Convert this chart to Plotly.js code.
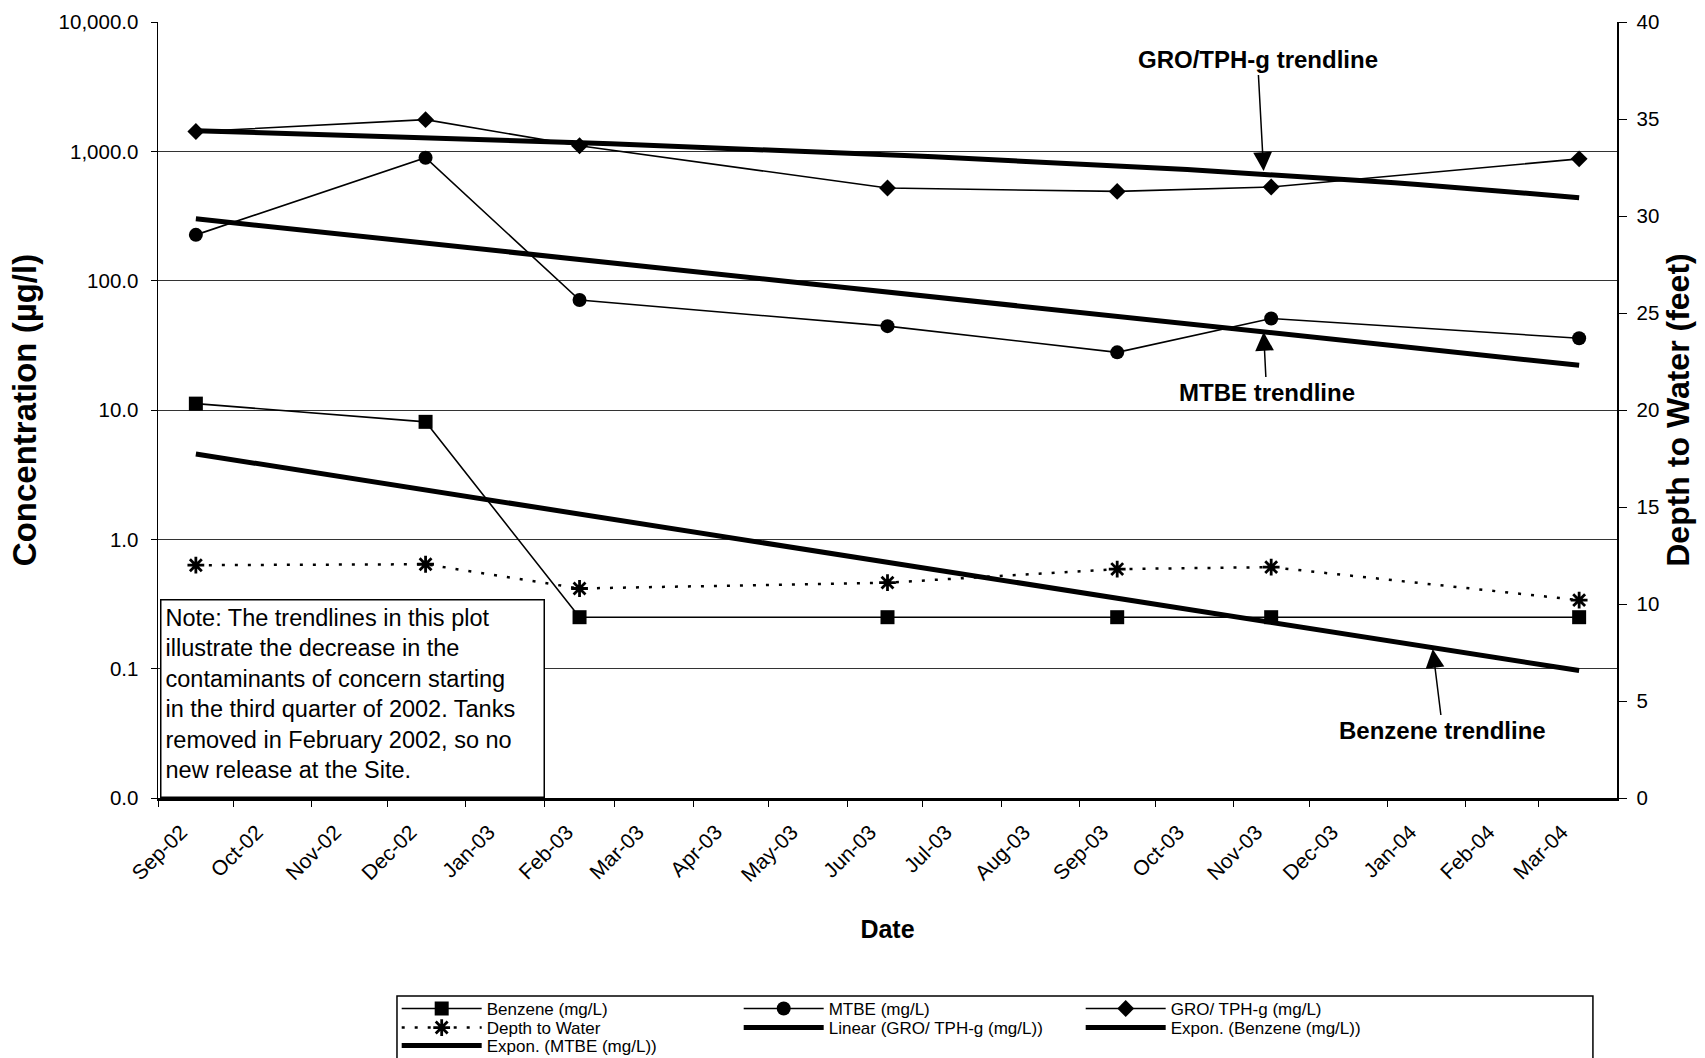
<!DOCTYPE html>
<html>
<head>
<meta charset="utf-8">
<script src="https://cdn.plot.ly/plotly-3.0.1.min.js"></script>
<style>html,body{margin:0;padding:0;background:#fff;}#chart{width:1705px;height:1058px;}</style>
</head>
<body>
<div id="chart"></div>
<script>
// ---- data ----
const sampleDates = ['2002-09-16','2002-12-16','2003-02-15','2003-06-17','2003-09-16','2003-11-16','2004-03-17'];
const benzene = [11.2, 8.1, 0.25, 0.25, 0.25, 0.25, 0.25];
const mtbe = [226, 893, 70.8, 44.5, 27.9, 51, 35.9];
const gro = [1422, 1758, 1105, 520, 490, 530, 875];
const depthToWater = [12.0, 12.05, 10.8, 11.1, 11.8, 11.9, 10.2];

const monthTickDates = ['2002-09-01','2002-10-01','2002-11-01','2002-12-01','2003-01-01','2003-02-01','2003-03-01','2003-04-01','2003-05-01','2003-06-01','2003-07-01','2003-08-01','2003-09-01','2003-10-01','2003-11-01','2003-12-01','2004-01-01','2004-02-01','2004-03-01'];
const monthTickLabels = ['Sep-02','Oct-02','Nov-02','Dec-02','Jan-03','Feb-03','Mar-03','Apr-03','May-03','Jun-03','Jul-03','Aug-03','Sep-03','Oct-03','Nov-03','Dec-03','Jan-04','Feb-04','Mar-04'];
const concTickVals = [0.01, 0.1, 1, 10, 100, 1000, 10000];
const concTickText = ['0.0','0.1','1.0','10.0','100.0','1,000.0','10,000.0'];

const noteLines = [
  'Note: The trendlines in this plot',
  'illustrate the decrease in the',
  'contaminants of concern starting',
  'in the third quarter of 2002. Tanks',
  'removed in February 2002, so no',
  'new release at the Site.'
];

// ---- trendlines (least squares, as Excel does) ----
const DAY = 864e5;
const tDays = sampleDates.map(d => Date.parse(d) / DAY);
function lsq(xs, ys) {
  const n = xs.length;
  const mx = xs.reduce((a,b)=>a+b,0)/n, my = ys.reduce((a,b)=>a+b,0)/n;
  let sxy = 0, sxx = 0;
  for (let i = 0; i < n; i++) { sxy += (xs[i]-mx)*(ys[i]-my); sxx += (xs[i]-mx)*(xs[i]-mx); }
  const b = sxy/sxx; return {a: my - b*mx, b: b};
}
const N = 60;
const tTrend = [];
for (let i = 0; i <= N; i++) tTrend.push(tDays[0] + (tDays[tDays.length-1]-tDays[0])*i/N);
const xTrend = tTrend.map(t => new Date(t*DAY).toISOString().slice(0,19));
const linGro = lsq(tDays, gro);
const expBen = lsq(tDays, benzene.map(Math.log));
const expMtbe = lsq(tDays, mtbe.map(Math.log));
const groTrend = tTrend.map(t => linGro.a + linGro.b*t);
const benTrend = tTrend.map(t => Math.exp(expBen.a + expBen.b*t));
const mtbeTrend = tTrend.map(t => Math.exp(expMtbe.a + expMtbe.b*t));

const FONT = 'Arial, "Liberation Sans", sans-serif';
const thin = {color:'#000', width:1.6};

const traces = [
  {x: sampleDates, y: benzene, name:'Benzene (mg/L)', legend:'legend', mode:'lines+markers', line: thin,
   marker:{symbol:'square', size:14, color:'#000'}},
  {x: sampleDates, y: mtbe, name:'MTBE (mg/L)', legend:'legend', mode:'lines+markers', line: thin,
   marker:{symbol:'circle', size:14, color:'#000'}},
  {x: sampleDates, y: gro, name:'GRO/ TPH-g (mg/L)', legend:'legend', mode:'lines+markers', line: thin,
   marker:{symbol:'diamond', size:13, color:'#000'}},
  {x: sampleDates, y: depthToWater, name:'Depth to Water', legend:'legend2', mode:'lines+markers', yaxis:'y2',
   line:{color:'#000', width:2.5, dash:'3px,10px'},
   marker:{symbol:'asterisk-open', size:14, color:'#000', line:{color:'#000', width:2.8}}},
  {x: xTrend, y: groTrend, name:'Linear (GRO/ TPH-g (mg/L))', legend:'legend2', mode:'lines', line:{color:'#000', width:5}},
  {x: xTrend, y: benTrend, name:'Expon. (Benzene (mg/L))', legend:'legend2', mode:'lines', line:{color:'#000', width:5}},
  {x: xTrend, y: mtbeTrend, name:'Expon. (MTBE (mg/L))', legend:'legend3', mode:'lines', line:{color:'#000', width:5}}
];

const arrowStyle = {showarrow:true, arrowhead:2, arrowsize:2.5, arrowwidth:1.5, arrowcolor:'#000', standoff:0};
const annFont = {family: FONT, size: 24, color:'#000'};

function legendRow(yPaper) {
  return {orientation:'h', x:0.1636, xanchor:'left', y:yPaper, yanchor:'middle',
    borderwidth:0, bgcolor:'rgba(0,0,0,0)',
    font:{family: FONT, size:17, color:'#000'},
    entrywidth:247, entrywidthmode:'pixels', itemwidth:80, traceorder:'normal'};
}

const layout = {
  width:1705, height:1058,
  paper_bgcolor:'#fff', plot_bgcolor:'#fff',
  margin:{l:158, r:88, t:22, b:260, autoexpand:false},
  font:{family: FONT, color:'#000'},
  showlegend:true,
  legend: legendRow(-0.2719),
  legend2: legendRow(-0.2964),
  legend3: legendRow(-0.3196),
  shapes:[
    {type:'rect', xref:'paper', yref:'paper', x0:0.1638, x1:0.9835, y0:-0.2552, y1:-0.36,
     line:{color:'#000', width:1.5}, fillcolor:'rgba(0,0,0,0)', layer:'below'}
  ],
  xaxis:{type:'date', range:['2002-09-01','2004-04-01'], automargin:false,
    tickmode:'array', tickvals: monthTickDates, ticktext: monthTickLabels,
    tickangle:-45, ticks:'outside', ticklen:6, tickcolor:'#000', tickwidth:1,
    ticklabelshift:23, ticklabelstandoff:5,
    tickfont:{family: FONT, size:21, color:'#000'},
    showline:true, linecolor:'#000', linewidth:2.5, showgrid:false, zeroline:false,
    title:{text:'<b>Date</b>', font:{family: FONT, size:25, color:'#000'}, standoff:36}},
  yaxis:{type:'log', range:[-2, 4], automargin:false, tickmode:'array', tickvals: concTickVals, ticktext: concTickText,
    ticks:'outside', ticklen:6, tickcolor:'#000', ticklabelstandoff:8,
    tickfont:{family: FONT, size:20.5, color:'#000'},
    showline:true, linecolor:'#000', linewidth:1.5,
    showgrid:true, gridcolor:'#333', gridwidth:1, zeroline:false,
    title:{text:'<b>Concentration (µg/l)</b>', font:{family: FONT, size:33, color:'#000'}, standoff:12}},
  yaxis2:{overlaying:'y', side:'right', range:[0, 40], dtick:5, tick0:0, automargin:false,
    ticks:'outside', ticklen:8, tickcolor:'#000', ticklabelstandoff:6,
    tickfont:{family: FONT, size:20.5, color:'#000'},
    showline:true, linecolor:'#000', linewidth:1.5, showgrid:false, zeroline:false,
    title:{text:'<b>Depth to Water (feet)</b>', font:{family: FONT, size:32, color:'#000'}, standoff:8}},
  annotations:[
    Object.assign({xref:'x', yref:'y', x:'2003-11-13', y:Math.log10(705), ax:-6, ay:-111,
      text:'<b>GRO/TPH-g trendline</b>', font: annFont}, arrowStyle),
    Object.assign({xref:'x', yref:'y', x:'2003-11-13', y:1.603, ax:3, ay:60,
      text:'<b>MTBE trendline</b>', font: annFont}, arrowStyle),
    Object.assign({xref:'x', yref:'y', x:'2004-01-19', y:-0.848, ax:10, ay:81,
      text:'<b>Benzene trendline</b>', font: annFont}, arrowStyle),
    {xref:'paper', yref:'paper', x:0.0015, xanchor:'left', y:0.2558, yanchor:'top',
      text: noteLines.join('<br>'), showarrow:false, align:'left', valign:'top',
      width:374, height:188, borderpad:4, bordercolor:'#000', borderwidth:1.5, bgcolor:'#fff',
      font:{family: FONT, size:23.5, color:'#000'}}
  ]
};

Plotly.newPlot('chart', traces, layout, {displayModeBar:false, staticPlot:true});
</script>
</body>
</html>
